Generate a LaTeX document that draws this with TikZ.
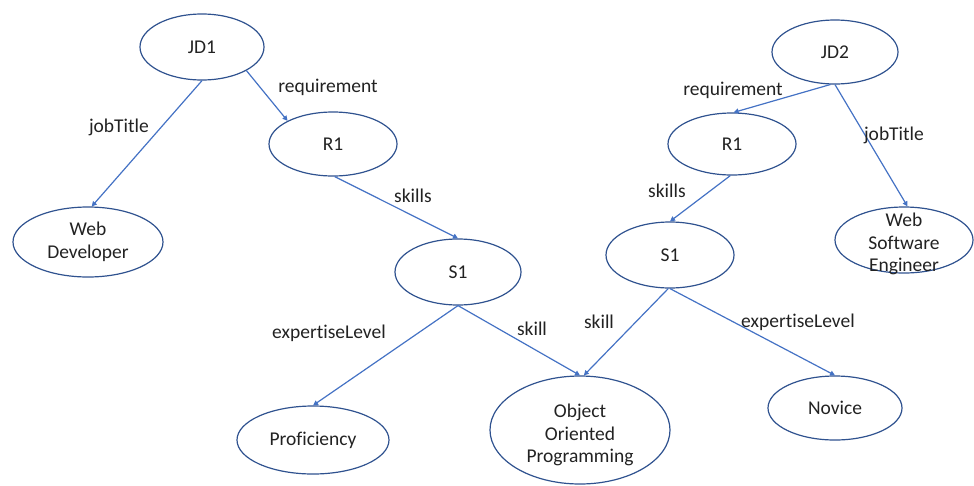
\documentclass[tikz,border=0pt]{standalone}
\usepackage{fontspec}
\setmainfont[Ligatures=NoCommon]{Carlito}
\usetikzlibrary{shapes.geometric,arrows.meta}
\definecolor{edgeblue}{HTML}{4472C4}
\definecolor{rimblue}{HTML}{2F528F}
\definecolor{inkgray}{HTML}{222222}
\tikzset{
  ent/.style={ellipse, draw=rimblue, line width=1.2pt, inner sep=0pt,
    align=center, text=inkgray, font=\fontsize{19.5}{23}\selectfont},
  inner/.style={align=center, text=inkgray, inner sep=0pt,
    font=\fontsize{19.5}{22.5}\selectfont},
  rel/.style={draw=edgeblue, line width=1.2pt,
    -{Triangle[length=5pt,width=5pt]}},
  lbl/.style={text=inkgray, font=\fontsize{19.5}{22}\selectfont}
}
\begin{document}
\begin{tikzpicture}[x=1pt,y=-1pt]
\useasboundingbox (0,0) rectangle (974,485);
% job description 1
\node[ent, minimum width=124pt, minimum height=66pt] (jd1) at (202,47) {JD1};
\node[ent, minimum width=128pt, minimum height=64pt] (r1a) at (333,144) {R1};
\node[ent, minimum width=150pt, minimum height=70pt] (wd) at (88,242) {Web\\Developer};
\node[ent, minimum width=126pt, minimum height=66pt] (s1a) at (458,272) {S1};
\node[ent, minimum width=152pt, minimum height=68pt] (prof) at (313,440) {Proficiency};
% shared skill, text set slightly below the centre
\node[ent, minimum width=180pt, minimum height=108pt,
  label={[inner, yshift=-5pt]center:Object\\Oriented\\Programming}] (oop) at (580,430) {};
% job description 2
\node[ent, minimum width=126pt, minimum height=64pt] (jd2) at (835,52) {JD2};
\node[ent, minimum width=128pt, minimum height=62pt] (r1b) at (732,144) {R1};
\node[ent, minimum width=128pt, minimum height=66pt] (s1b) at (670,255) {S1};
\node[ent, minimum width=138pt, minimum height=66pt,
  label={[inner, yshift=-4pt]center:Web\\Software\\Engineer}] (wse) at (904,240) {};
\node[ent, minimum width=134pt, minimum height=64pt] (nov) at (835,408) {Novice};

% relations
\draw[rel] (jd1.south) -- (wd.84);
\draw[rel] (jd1.-28) -- (r1a.153);
\draw[rel] (r1a.-87) -- (s1a.north);
\draw[rel] (s1a.south) -- (prof.north);
\draw[rel] (s1a.south) -- (oop.north);
\draw[rel] (jd2.262) -- (r1b.87);
\draw[rel] (jd2.south) -- (wse.84);
\draw[rel] (r1b.-93) -- (s1b.north);
\draw[rel] (s1b.-93) -- (oop.86);
\draw[rel] (s1b.-90) -- (nov.north);

% relation names
\node[lbl] (t1) at (119,127) {jobTitle};
\node[lbl] (t2) at (328,87) {requirement};
\node[lbl] (t3) at (413,196) {skills};
\node[lbl] (t4) at (329,333) {expertiseLevel};
\node[lbl] (t5) at (532,329) {skill};
\node[lbl] (t6) at (599,322) {skill};
\node[lbl] (t7) at (798,322) {expertiseLevel};
\node[lbl] (t8) at (733,90) {requirement};
\node[lbl] (t9) at (894,135) {jobTitle};
\node[lbl] (t10) at (667,191) {skills};
\end{tikzpicture}
\end{document}
